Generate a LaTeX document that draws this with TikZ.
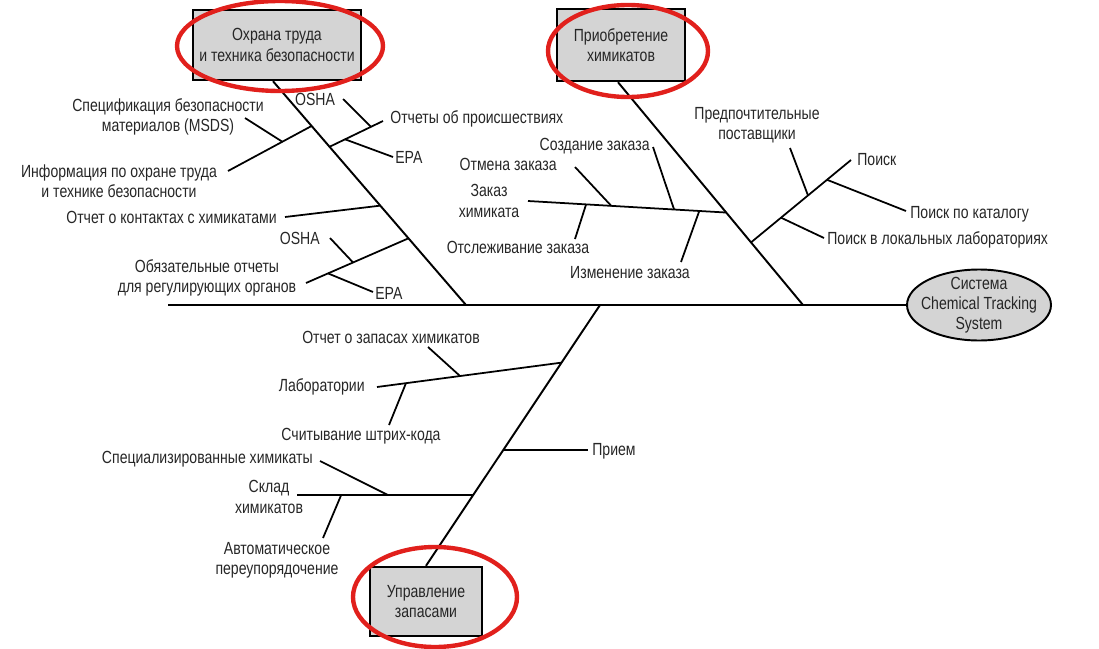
\documentclass[tikz,border=0pt]{standalone}
\usepackage{fontspec}
\newfontfamily\lblfont{Liberation Sans}[FakeStretch=0.8]
\usetikzlibrary{calc,shapes.geometric}
\definecolor{ink}{HTML}{262626}
\definecolor{boxgray}{HTML}{D4D4D4}
\definecolor{ringred}{HTML}{E1201C}

\begin{document}
\begin{tikzpicture}[x=0.02cm,y=-0.02cm,
  bone/.style={line width=1.1pt},
  twig/.style={line width=1pt},
  lbl/.style={font=\lblfont\fontsize{10}{11.5}\selectfont,text=ink,inner sep=0pt,align=center},
  causebox/.style={draw,line width=1.4pt,fill=boxgray,lbl},
  ring/.style={draw=ringred,line width=2.5pt}]
\useasboundingbox (0,0) rectangle (1099,649);
% cause boxes and effect
\node[causebox,minimum width=3.36cm,minimum height=1.4cm] (safety) at (277,45) {Охрана труда\\и техника безопасности};
\node[causebox,minimum width=2.56cm,minimum height=1.44cm] (purchase) at (621,45) {Приобретение\\химикатов};
\node[causebox,minimum width=2.24cm,minimum height=1.38cm] (inventory) at (426,601.5) {Управление\\запасами};
\node[ellipse,draw,line width=1.1pt,fill=boxgray,lbl,inner xsep=-4pt,inner ysep=-2pt,minimum width=2.88cm,minimum height=1.42cm] (sys) at (979,305) {Система\\Chemical Tracking\\System};
% spine
\draw[bone] (168,305) coordinate (tail) -- (sys.west);
% safety bone
\draw[bone] ($(safety.south)+(-4,0)$) coordinate (s1) -- (466,305) coordinate (s2);
\foreach \nm/\pos in {sa/0.2,sb/0.293,sc/0.556,sd/0.702} \coordinate (\nm) at ($(s1)!\pos!(s2)$);
\draw[twig] (sa) -- (228,171) coordinate (sa1);
\draw[twig] ($(sa)!0.35!(sa1)$) -- (245,118);
\draw[twig] (sb) -- (383,121) coordinate (sb1);
\draw[twig] ($(sb)!0.775!(sb1)$) -- (343,99);
\draw[twig] ($(sb)!0.29!(sb1)$) -- (393,157);
\draw[twig] (sc) -- (285,217);
\draw[twig] (sd) -- (306,283) coordinate (sd1);
\draw[twig] ($(sd)!0.541!(sd1)$) -- (330,238);
\draw[twig] ($(sd)!0.785!(sd1)$) -- (373,292);
\node[lbl] (msds) at (168,117) {Спецификация безопасности\\материалов (MSDS)};
\node[lbl] (info) at (119,181) {Информация по охране труда\\и технике безопасности};
\node[lbl,anchor=west] (incidents) at (390,119) {Отчеты об происшествиях};
\node[lbl] (osha1) at (315,99) {OSHA};
\node[lbl,anchor=west] (epa1) at (395,157) {EPA};
\node[lbl,anchor=east] (contacts) at (277,217) {Отчет о контактах с химикатами};
\node[lbl,anchor=east] (osha2) at (320,238) {OSHA};
\node[lbl,anchor=west] (epa2) at (375,293) {EPA};
\node[lbl] (regs) at (207,278) {Обязательные отчеты\\для регулирующих органов};
% purchase bone
\draw[bone] ($(purchase.south)+(-3,0)$) coordinate (p1) -- (803,305) coordinate (p2);
\foreach \nm/\pos in {pa/0.585,pb/0.719} \coordinate (\nm) at ($(p1)!\pos!(p2)$);
\draw[twig] (pa) -- (528,201) coordinate (pa1);
\draw[twig] ($(pa)!0.58!(pa1)$) -- (575,167);
\draw[twig] ($(pa)!0.263!(pa1)$) -- (653,147);
\draw[twig] ($(pa)!0.707!(pa1)$) -- (575,239);
\draw[twig] ($(pa)!0.136!(pa1)$) -- (681,262);
\draw[twig] (pb) -- (851,160) coordinate (pb1);
\draw[twig] ($(pb)!0.57!(pb1)$) -- (790,148);
\draw[twig] ($(pb)!0.76!(pb1)$) -- (906,211);
\draw[twig] ($(pb)!0.3!(pb1)$) -- (824,238);
\node[lbl,anchor=east] (cancel) at (557,164) {Отмена заказа};
\node[lbl,anchor=east] (create) at (650,146) {Создание заказа};
\node[lbl] (order) at (489,201) {Заказ\\химиката};
\node[lbl] (track) at (518,247) {Отслеживание заказа};
\node[lbl] (change) at (630,273) {Изменение заказа};
\node[lbl] (preferred) at (757,125) {Предпочтительные\\поставщики};
\node[lbl,anchor=west] (search) at (857,160) {Поиск};
\node[lbl,anchor=west] (catalog) at (910,214) {Поиск по каталогу};
\node[lbl,anchor=west] (local) at (827,240) {Поиск в локальных лабораториях};
% inventory bone
\draw[bone] (600,305) coordinate (i1) -- (inventory.north) coordinate (i2);
\foreach \nm/\pos in {ia/0.221,ib/0.557,ic/0.729} \coordinate (\nm) at ($(i1)!\pos!(i2)$);
\draw[twig] (ia) -- (377,387) coordinate (ia1);
\draw[twig] ($(ia)!0.55!(ia1)$) -- (428,347);
\draw[twig] ($(ia)!0.843!(ia1)$) -- (389,425);
\draw[twig] (ib) -- ++(85,0);
\draw[twig] (ic) -- ++(-176,0) coordinate (ic1);
\draw[twig] ($(ic)!0.483!(ic1)$) -- (320,461);
\draw[twig] ($(ic)!0.75!(ic1)$) -- (323,538);
\node[lbl] (stockreport) at (391,337) {Отчет о запасах химикатов};
\node[lbl,anchor=east] (labs) at (365,387) {Лаборатории};
\node[lbl] (barcode) at (361,436) {Считывание штрих-кода};
\node[lbl,anchor=west] (receive) at (592,451) {Прием};
\node[lbl,anchor=east] (special) at (313,459) {Специализированные химикаты};
\node[lbl] (store) at (269,497) {Склад\\химикатов};
\node[lbl] (auto) at (277,560) {Автоматическое\\переупорядочение};
% red rings
\draw[ring] (280,46) ellipse [x radius=103,y radius=45];
\draw[ring] (628,51) ellipse [x radius=80,y radius=46];
\draw[ring] (435,597) ellipse [x radius=82,y radius=50];
\end{tikzpicture}
\end{document}
